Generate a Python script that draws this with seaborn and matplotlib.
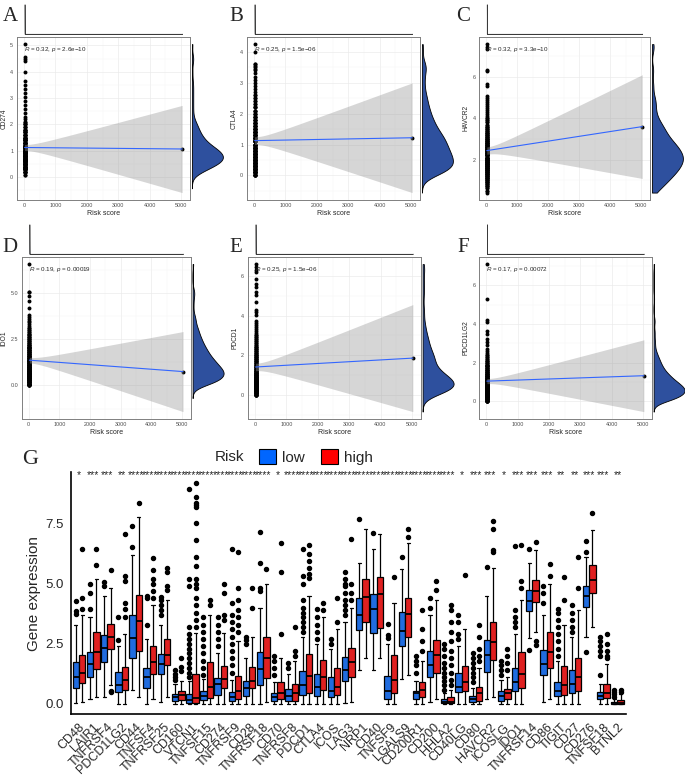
import numpy as np
import pandas as pd
import matplotlib
matplotlib.use("Agg")
import matplotlib.pyplot as plt
import matplotlib.transforms as mtransforms
from matplotlib.patches import Patch
from matplotlib.ticker import FixedLocator, FormatStrFormatter
import seaborn as sns

# ---------------- panels A-F: risk score vs. checkpoint genes ----------------
# risk score of the patients: nearly all sit close to 0, one patient is extreme
risk_levels = [20]
risk_counts = [200]
risk_outlier = 5030

cd274_levels = [0.1, 0.2, 0.3, 0.4, 0.5, 0.6, 0.7, 0.8, 0.9, 1.0, 1.1, 1.2, 1.3, 1.4, 1.5, 1.6, 1.7, 1.8, 1.9, 2.0, 2.1]
cd274_counts = [2, 5, 8, 11, 14, 16, 17, 17, 16, 14, 12, 10, 8, 7, 6, 5, 4, 4, 3, 3, 2]
cd274_tail = [2.2, 2.3, 2.45, 2.6, 2.75, 2.9, 3.05, 3.2, 3.35, 3.5, 3.65, 4.0, 4.4, 4.5, 4.55, 5.05]

ctla4_levels = [0.0, 0.1, 0.2, 0.3, 0.4, 0.5, 0.6, 0.7, 0.8, 0.9, 1.0, 1.1, 1.2, 1.3, 1.4, 1.5, 1.6,
                1.7, 1.8, 1.9, 2.0, 2.1, 2.2, 2.3, 2.4, 2.5, 2.6, 2.7, 2.8, 2.9, 3.0, 3.1, 3.2, 3.3]
ctla4_counts = [6, 9, 11, 12, 12, 12, 11, 11, 10, 10, 9, 9, 8, 7, 7, 6, 5,
                5, 4, 4, 3, 3, 3, 2, 2, 2, 2, 1, 1, 1, 1, 1, 1, 1]
ctla4_tail = [3.4, 3.45, 3.5, 3.55, 3.6, 3.62, 4.0, 4.25]

havcr2_levels = [0.4, 0.5, 0.6, 0.7, 0.8, 0.9, 1.0, 1.1, 1.2, 1.3, 1.4, 1.5, 1.6, 1.7, 1.8, 1.9,
                 2.0, 2.1, 2.2, 2.3, 2.4, 2.5, 2.6, 2.7, 2.8, 2.9, 3.0, 3.1, 3.2, 3.3, 3.4, 3.5,
                 3.6, 3.7, 3.8, 3.9, 4.0, 4.1, 4.2, 4.3, 4.4, 4.5, 4.6, 4.7, 4.8, 4.9]
havcr2_counts = [1, 2, 2, 3, 3, 4, 4, 5, 5, 6, 6, 7, 7, 7, 8, 8,
                 8, 8, 8, 8, 7, 7, 7, 6, 6, 5, 5, 4, 4, 4, 3, 3,
                 3, 2, 2, 2, 2, 1, 1, 1, 1, 1, 1, 1, 1, 1]
havcr2_tail = [5.0, 5.1, 5.55, 5.65, 6.3, 6.35, 7.35, 7.45, 7.6]

ido1_levels = [0.0, 0.1, 0.2, 0.3, 0.4, 0.5, 0.6, 0.7, 0.8, 0.9, 1.0, 1.1, 1.2, 1.3, 1.4, 1.5, 1.6,
               1.7, 1.8, 1.9, 2.0, 2.1, 2.2, 2.3, 2.4, 2.5, 2.6, 2.7, 2.8, 2.9, 3.0, 3.1, 3.2,
               3.3, 3.4, 3.5, 3.6, 3.7, 3.8]
ido1_counts = [5, 6, 8, 9, 10, 10, 10, 10, 10, 9, 9, 8, 8, 7, 7, 6, 6,
               5, 5, 5, 4, 4, 4, 3, 3, 3, 3, 2, 2, 2, 2, 2, 1,
               1, 1, 1, 1, 1, 1]
ido1_tail = [4.2, 4.55, 4.85, 5.05, 5.05, 6.55]

pdcd1_levels = [0.0, 0.1, 0.2, 0.3, 0.4, 0.5, 0.6, 0.7, 0.8, 0.9, 1.0, 1.1, 1.2, 1.3, 1.4, 1.5, 1.6,
                1.7, 1.8, 1.9, 2.0, 2.1, 2.2, 2.3, 2.4, 2.5, 2.6, 2.7, 2.8, 2.9, 3.0, 3.1, 3.2,
                3.3, 3.4, 3.5, 3.6, 3.7]
pdcd1_counts = [6, 8, 10, 11, 12, 12, 12, 11, 10, 9, 8, 7, 6, 5, 5, 4, 4,
                4, 4, 4, 4, 3, 3, 3, 3, 2, 2, 2, 2, 2, 2, 1, 1,
                1, 1, 1, 1, 1]
pdcd1_tail = [4.05, 4.2, 4.3, 4.7, 5.05, 5.2, 5.45, 5.6, 5.85, 6.2, 6.3, 6.45, 6.6]

pdcd1lg2_levels = [0.0, 0.1, 0.2, 0.3, 0.4, 0.5, 0.6, 0.7, 0.8, 0.9, 1.0, 1.1, 1.2, 1.3,
                   1.4, 1.5, 1.6, 1.7, 1.8, 1.9, 2.0, 2.1, 2.2, 2.3, 2.4, 2.5, 2.6, 2.7]
pdcd1lg2_counts = [7, 9, 11, 12, 13, 14, 14, 13, 12, 11, 10, 9, 7, 7,
                   6, 5, 5, 4, 4, 3, 3, 3, 2, 2, 2, 1, 1, 1]
pdcd1lg2_tail = [2.9, 3.05, 3.2, 3.5, 3.65, 4.1, 4.2, 5.3, 7.1]

scatter_genes = ["CD274", "CTLA4", "HAVCR2", "IDO1", "PDCD1", "PDCD1LG2"]
extreme_expr = [1.07, 1.22, 3.6, 0.75, 1.85, 1.32]
corr_notes = ["$R$ = 0.32, $p$ = 2.6e\u221210", "$R$ = 0.25, $p$ = 1.5e\u221206",
              "$R$ = 0.32, $p$ = 3.3e\u221210", "$R$ = 0.19, $p$ = 0.00019",
              "$R$ = 0.25, $p$ = 1.5e\u221206", "$R$ = 0.17, $p$ = 0.00072"]
scatter_yticks = [[0, 1, 2, 3, 4, 5], [0, 1, 2, 3, 4], [2, 4, 6],
                  [0.0, 2.5, 5.0], [0, 2, 4, 6], [0, 2, 4, 6]]

# ---------------- panel G: immune checkpoint expression by risk group ----------------
genes = ["CD48", "LAIR1", "TNFRSF4", "PDCD1LG2", "CD44", "TNFSF4", "TNFRSF25", "CD160", "VTCN1",
         "TNFSF15", "CD274", "TNFRSF9", "CD28", "TNFRSF18", "CD70", "TNFRSF8", "PDCD1", "CTLA4",
         "ICOS", "LAG3", "NRP1", "CD40", "TNFSF9", "LGALS9", "CD200R1", "CD200", "HHLA2", "CD40LG",
         "CD80", "HAVCR2", "ICOSLG", "IDO1", "TNFRSF14", "CD86", "TIGIT", "CD27", "CD276",
         "TNFSF18", "BTNL2"]
signif = ["*", "***", "***", "**", "****", "****", "****", "****", "****", "****", "****", "****",
          "****", "****", "*", "****", "****", "****", "****", "****", "****", "****", "****",
          "****", "****", "****", "****", "*", "***", "***", "*", "***", "***", "***", "**", "**",
          "***", "***", "**"]

low_whislo = [0.05, 0.2, 0.3, 0.0, 0.6, 0.0, 0.1, 0.0, 0.0, 0.0, 0.0, 0.0, 0.0, 0.0, 0.0, 0.0, 0.0,
              0.0, 0.0, 0.05, 1.4, 1.4, 0.0, 1.05, 0.0, 0.1, 0.0, 0.0, 0.0, 0.2, 0.0, 0.0, 2.73,
              0.1, 0.0, 0.0, 2.8, 0.0, 0.0]
low_q1 = [0.68, 1.11, 1.73, 0.51, 1.90, 0.68, 1.23, 0.12, 0.03, 0.17, 0.37, 0.12, 0.31, 0.79, 0.12,
          0.12, 0.37, 0.34, 0.29, 0.96, 3.07, 2.93, 0.21, 2.42, 0.21, 1.14, 0.03, 0.48, 0.10, 1.33,
          0.14, 0.52, 3.86, 1.20, 0.33, 0.44, 4.04, 0.21, 0.0]
low_med = [1.11, 1.65, 2.34, 0.79, 2.73, 1.13, 1.65, 0.27, 0.17, 0.34, 0.81, 0.27, 0.66, 1.44, 0.29,
           0.33, 0.79, 0.72, 0.52, 1.41, 3.69, 3.93, 0.52, 3.03, 0.44, 1.60, 0.10, 0.72, 0.21, 2.03,
           0.33, 0.93, 4.28, 1.65, 0.52, 0.81, 4.50, 0.34, 0.03]
low_q3 = [1.76, 2.15, 2.85, 1.31, 3.70, 1.51, 2.09, 0.42, 0.42, 0.54, 1.09, 0.50, 0.96, 2.15, 0.47,
          0.62, 1.36, 1.23, 1.13, 1.97, 4.39, 4.55, 1.18, 3.83, 0.52, 2.20, 0.21, 1.27, 0.34, 2.66,
          0.52, 1.51, 4.73, 2.23, 0.93, 1.41, 4.91, 0.48, 0.10]
low_whishi = [3.28, 3.6, 4.5, 2.4, 6.2, 2.7, 3.3, 0.85, 0.95, 1.05, 2.1, 1.0, 1.9, 4.0, 0.9, 1.25,
              2.8, 2.5, 2.3, 3.4, 5.85, 6.43, 2.5, 5.62, 0.95, 3.7, 0.45, 2.4, 0.65, 4.5, 1.0, 2.9,
              5.84, 3.7, 1.8, 2.8, 6.11, 0.85, 0.22]
low_outliers = [[3.72, 3.85, 4.28], [3.95, 4.6, 5.0], [4.9, 5.05], [2.64, 3.63], [6.53, 7.39],
                [3.28, 4.4, 4.5], [3.7, 3.9, 4.1, 4.3, 4.45], [1.0, 1.1, 1.25, 1.4],
                [1.1, 1.3, 1.5, 1.7, 1.9, 2.1, 2.3, 2.5, 2.7, 2.9, 3.2, 4.9, 5.2, 8.92],
                [1.2, 1.5, 1.8, 2.1, 2.4, 2.7, 3.0, 3.3, 3.6], [2.4, 2.7, 3.0, 3.3, 3.6],
                [1.3, 1.6, 1.9, 2.2, 2.5, 2.8, 3.1, 3.4, 3.7, 4.2, 6.43], [2.5, 2.65, 2.8],
                [4.7, 4.8, 5.84, 7.15], [1.2, 1.5, 1.8, 2.0], [1.5, 1.7],
                [3.0, 3.2, 3.4, 3.6, 3.8, 4.0, 4.3, 5.0, 5.3, 6.43], [2.7, 3.0, 3.3, 3.6, 3.95],
                [2.5, 2.7], [3.7, 3.9, 4.1, 4.3, 4.6, 4.9, 5.0, 5.2, 5.5], [7.68], [7.11],
                [2.75, 2.86, 3.31], [6.11], [1.3, 1.6, 1.8, 2.0], [4.0, 4.4],
                [0.6, 0.8, 0.95, 1.1, 1.3, 1.5, 1.7, 2.0, 2.3, 2.5], [2.7, 2.9, 3.4, 3.7],
                [0.9, 1.1, 1.3, 1.5, 1.7, 1.9, 2.1], [5.7], [1.2, 1.4, 1.6, 1.8],
                [3.2, 3.4, 3.6, 3.9, 6.56], [2.25, 6.43], [4.2, 4.6, 4.9],
                [2.0, 2.3, 2.6, 2.9, 3.2, 3.5, 3.8, 3.95], [3.0, 3.2, 3.5, 3.8, 4.1],
                [2.17, 6.32, 6.77], [1.2, 2.0, 2.2, 2.4, 2.6, 2.8], [0.3, 0.4, 0.5, 0.6]]

high_whislo = [0.1, 0.3, 0.8, 0.0, 0.3, 0.2, 0.3, 0.0, 0.0, 0.0, 0.0, 0.0, 0.0, 0.1, 0.0, 0.0, 0.0,
               0.0, 0.0, 0.1, 1.9, 1.9, 0.0, 1.2, 0.0, 0.2, 0.0, 0.0, 0.0, 0.3, 0.0, 0.0, 3.0, 0.2,
               0.0, 0.0, 3.2, 0.0, 0.0]
high_q1 = [0.86, 1.45, 2.28, 0.58, 2.20, 1.23, 1.62, 0.17, 0.03, 0.23, 0.65, 0.21, 0.65, 1.07, 0.21,
           0.12, 0.44, 0.58, 0.37, 1.14, 3.42, 3.17, 0.44, 2.80, 0.27, 1.30, 0.03, 0.52, 0.14, 1.83,
           0.21, 0.65, 4.22, 1.50, 0.37, 0.52, 4.60, 0.23, 0.0]
high_med = [1.30, 2.17, 2.79, 0.99, 3.45, 1.73, 2.03, 0.37, 0.23, 0.69, 1.04, 0.52, 0.96, 1.93, 0.44,
            0.44, 1.18, 1.10, 0.72, 1.76, 4.46, 4.55, 0.99, 3.72, 0.58, 2.03, 0.10, 0.93, 0.44, 2.59,
            0.44, 1.23, 4.69, 2.15, 0.79, 1.14, 5.15, 0.44, 0.05]
high_q3 = [2.03, 2.97, 3.31, 1.54, 4.52, 2.42, 2.71, 0.52, 1.23, 1.73, 1.59, 1.18, 1.55, 2.77, 0.93,
           0.83, 2.09, 1.82, 1.48, 2.34, 5.20, 5.28, 2.03, 4.41, 0.93, 2.66, 0.27, 1.59, 0.72, 3.42,
           0.62, 2.17, 5.15, 2.97, 1.59, 1.90, 5.77, 0.83, 0.17]
high_whishi = [3.7, 5.2, 4.8, 2.9, 7.78, 4.1, 4.3, 0.95, 2.95, 3.7, 2.95, 2.6, 2.8, 5.0, 1.9, 1.8,
               4.5, 3.6, 3.1, 4.0, 7.29, 7.08, 4.2, 6.7, 1.8, 4.3, 0.6, 3.1, 1.5, 5.63, 1.1, 4.3,
               6.39, 5.0, 3.3, 3.9, 7.22, 1.65, 0.4]
high_outliers = [[3.95, 4.42, 6.43], [5.79, 6.43], [0.5, 0.55, 5.56], [3.6, 3.95, 4.2, 5.1, 5.3, 7.08],
                 [8.37], [4.4, 4.7, 5.0, 5.2, 5.56, 6.05], [4.75, 4.9, 5.5, 5.63], [1.35, 1.55, 1.9],
                 [3.2, 3.5, 3.8, 4.1, 4.4, 4.8, 5.0, 5.2, 5.75, 6.1, 6.8, 7.5, 8.2, 8.28, 8.37, 8.6, 9.19],
                 [4.1, 4.3], [3.5, 3.7, 4.6, 5.0], [3.0, 3.3, 3.6, 3.9, 4.3, 4.8, 6.3], [4.0, 4.8],
                 [5.6], [2.9, 5.49, 6.67], [2.0, 2.2, 3.2], [5.22, 5.4, 5.63, 5.95, 6.23, 6.6],
                 [3.9, 4.2], [3.4, 4.4], [4.3, 4.6, 5.0, 6.84], [], [], [5.26], [6.95, 7.29],
                 [2.2, 2.6, 3.1, 3.9], [4.75, 5.1], [0.8, 1.0, 1.3, 1.6, 1.9, 2.2, 2.6, 3.0, 3.4, 3.9, 4.1],
                 [5.35], [1.8, 2.0, 2.3, 2.8, 3.3], [6.32, 6.39, 7.29, 7.61], [1.4, 1.7, 2.0, 2.3],
                 [4.8, 5.1, 6.6], [2.45, 2.6, 6.74], [5.31, 5.8], [4.3, 5.26], [4.8, 6.09], [7.92],
                 [1.9, 2.0, 2.2, 2.5, 2.9], [0.5, 0.6]]

risk_palette = {"low": "#0066FF", "high": "#FF0000"}
dens_blue = "#2E509E"
W, H = 685, 778


def px_axes(fig, left, top, right, bottom):
    return fig.add_axes([left / W, 1 - bottom / H, (right - left) / W, (bottom - top) / H])


def lm_band(x, y, xs):
    b1, b0 = np.polyfit(x, y, 1)
    n = len(x)
    fit = b0 + b1 * xs
    resid = y - (b0 + b1 * x)
    s = np.sqrt(np.sum(resid ** 2) / (n - 2))
    sxx = np.sum((x - x.mean()) ** 2)
    se = s * np.sqrt(1 / n + (xs - x.mean()) ** 2 / sxx)
    return fit, fit - 1.972 * se, fit + 1.972 * se


def box_sample(lo, q1, med, q3, hi, out):
    # values whose box-plot statistics are the ones
    below = [v for v in out if v < lo]
    above = [v for v in out if v > hi]
    n = max(len(below), len(above)) + 1
    return (below + [lo] * (n - len(below)) + [q1] * n + [med] * n + [q3]
            + [hi] * (n - len(above)) + above)


sns.set_theme(style="white")
plt.rcParams["font.family"] = ["Liberation Sans", "DejaVu Sans"]
plt.rcParams["mathtext.fontset"] = "custom"
plt.rcParams["mathtext.it"] = "Liberation Sans:italic"
plt.rcParams["mathtext.rm"] = "Liberation Sans"

fig = plt.figure(figsize=(6.85, 7.78), dpi=100)
fig.patch.set_facecolor("white")

risk = np.concatenate([np.repeat(risk_levels, risk_counts), [risk_outlier]]).astype(float)
panel_data = [(cd274_levels, cd274_counts, cd274_tail), (ctla4_levels, ctla4_counts, ctla4_tail),
              (havcr2_levels, havcr2_counts, havcr2_tail), (ido1_levels, ido1_counts, ido1_tail),
              (pdcd1_levels, pdcd1_counts, pdcd1_tail),
              (pdcd1lg2_levels, pdcd1lg2_counts, pdcd1lg2_tail)]
main_boxes = [(16.7, 36.7, 190, 200), (246.7, 36.7, 420, 200), (479, 36.7, 650, 200),
              (21.7, 256.7, 190.7, 419), (247.7, 256.7, 420.7, 419), (479, 256.7, 651.7, 419)]
letter_pos = [(3, 7), (229, 7), (456, 7), (2, 238), (229, 238), (457, 238)]

for k, gene in enumerate(scatter_genes):
    levels, counts, tail = panel_data[k]
    expr = np.concatenate([np.repeat(levels, counts), tail, [extreme_expr[k]]])
    assert len(expr) == len(risk), (gene, len(expr), len(risk))
    l, t, r, b = main_boxes[k]

    ax = px_axes(fig, l, t, r, b)
    sns.scatterplot(x=risk, y=expr, ax=ax, color="black", s=8, linewidth=0, zorder=2)
    xs = np.linspace(risk.min(), risk.max(), 80)
    fit, lo, hi = lm_band(risk, expr, xs)
    ax.fill_between(xs, lo, hi, color="#999999", alpha=0.4, linewidth=0, zorder=3)
    ax.plot(xs, fit, color="#3366FF", lw=0.8, zorder=4)
    ax.margins(0.05)
    ax.set_facecolor("white")
    ax.xaxis.set_major_locator(FixedLocator([0, 1000, 2000, 3000, 4000, 5000]))
    ax.xaxis.set_minor_locator(FixedLocator([500, 1500, 2500, 3500, 4500]))
    yt = scatter_yticks[k]
    step = yt[1] - yt[0]
    ax.yaxis.set_major_locator(FixedLocator(yt))
    ax.yaxis.set_minor_locator(FixedLocator([yt[0] - step / 2] + [v + step / 2 for v in yt]))
    if isinstance(yt[1], float):
        ax.yaxis.set_major_formatter(FormatStrFormatter("%.1f"))
    ax.grid(which="major", color="#EBEBEB", lw=0.5)
    ax.grid(which="minor", color="#F3F3F3", lw=0.3)
    ax.set_axisbelow(True)
    ax.tick_params(which="major", length=1.5, width=0.4, color="#333333", labelsize=3.9,
                   labelcolor="#4D4D4D", pad=1)
    ax.tick_params(which="minor", length=0)
    for sp in ax.spines.values():
        sp.set_color("#808080")
        sp.set_linewidth(0.7)
    ax.set_xlabel("Risk score", fontsize=5, labelpad=1)
    ax.set_ylabel(gene, fontsize=4.8, labelpad=2)
    trans = mtransforms.blended_transform_factory(ax.transData, ax.transAxes)
    ax.text(0, 0.92, corr_notes[k], transform=trans, fontsize=4.5, ha="left", va="center",
            zorder=5)
    ylo, yhi = ax.get_ylim()

    # marginal density of expression (right)
    axr = px_axes(fig, r + 1, t, r + 36, b)
    sns.kdeplot(y=expr, ax=axr, fill=True, color=dens_blue, alpha=1, edgecolor="black",
                linewidth=0.6, cut=3, bw_adjust=0.6,
                clip=(min(expr.min(), lo.min()), max(expr.max(), hi.max())))
    peak = axr.dataLim.x1
    axr.set_xlim(-0.03 * peak, 1.1 * peak)
    axr.set_ylim(ylo, yhi)
    axr.axis("off")

    # marginal density of risk score (top)
    axt = px_axes(fig, l, t - 33, r, t - 2)
    sns.kdeplot(x=risk, ax=axt, fill=True, color=dens_blue, alpha=1, edgecolor="#3A3A3A",
                linewidth=0.5, cut=0, bw_adjust=0.02, gridsize=6000)
    top = axt.dataLim.y1
    axt.set_xlim(ax.get_xlim())
    axt.set_ylim(-0.03 * top, top * 1.02)
    axt.axis("off")

    fig.text(letter_pos[k][0] / W, 1 - letter_pos[k][1] / H, "ABCDEF"[k], fontsize=15,
             family="Liberation Serif", ha="left", va="top")

# ---------------- panel G ----------------
rows = []
for i, g in enumerate(genes):
    for v in box_sample(low_whislo[i], low_q1[i], low_med[i], low_q3[i], low_whishi[i], low_outliers[i]):
        rows.append((g, "low", v))
    for v in box_sample(high_whislo[i], high_q1[i], high_med[i], high_q3[i], high_whishi[i], high_outliers[i]):
        rows.append((g, "high", v))
box_df = pd.DataFrame(rows, columns=["gene", "Risk", "value"])

axg = px_axes(fig, 70.5, 472, 626, 714.3)
sns.boxplot(data=box_df, x="gene", y="value", hue="Risk", order=genes, hue_order=["low", "high"],
            palette=risk_palette, width=0.9, gap=0, linecolor="black", linewidth=0.9,
            fliersize=2.9, flierprops=dict(marker="o", markerfacecolor="black",
                                           markeredgecolor="black"),
            medianprops=dict(linewidth=1.3), legend=False, ax=axg)
axg.set_xlim(-0.6, len(genes) - 0.4)
axg.set_ylim(-0.43, 9.64)
axg.set_yticks([0, 2.5, 5, 7.5])
axg.set_yticklabels(["0.0", "2.5", "5.0", "7.5"], fontsize=9.5)
axg.set_xticks(range(len(genes)))
axg.set_xticklabels(genes, rotation=45, ha="right", va="top", rotation_mode="anchor", fontsize=9)
axg.tick_params(length=3.5, width=0.9, color="black", pad=1.5)
axg.set_xlabel("")
axg.set_ylabel("Gene expression", fontsize=11, labelpad=3)
for side in ["top", "right"]:
    axg.spines[side].set_visible(False)
for side in ["left", "bottom"]:
    axg.spines[side].set_color("black")
    axg.spines[side].set_linewidth(1.2)
for i, s in enumerate(signif):
    axg.text(i, 9.52, s, ha="center", va="center", fontsize=7.5, clip_on=False)

fig.text(215 / W, 1 - 457 / H, "Risk", fontsize=11, ha="left", va="center")
handles = [Patch(facecolor=risk_palette[h], edgecolor="black", linewidth=0.8) for h in ["low", "high"]]
fig.legend(handles, ["low", "high"], loc="center left", bbox_to_anchor=(259 / W, 1 - 457 / H),
           ncol=2, frameon=False, fontsize=11, handlelength=1.1, handleheight=1.1,
           handletextpad=0.4, columnspacing=1.1, borderpad=0, borderaxespad=0)
fig.text(22 / W, 1 - 450 / H, "G", fontsize=16, family="Liberation Serif", ha="left", va="top")

fig.savefig("out.png", dpi=100, facecolor="white")
